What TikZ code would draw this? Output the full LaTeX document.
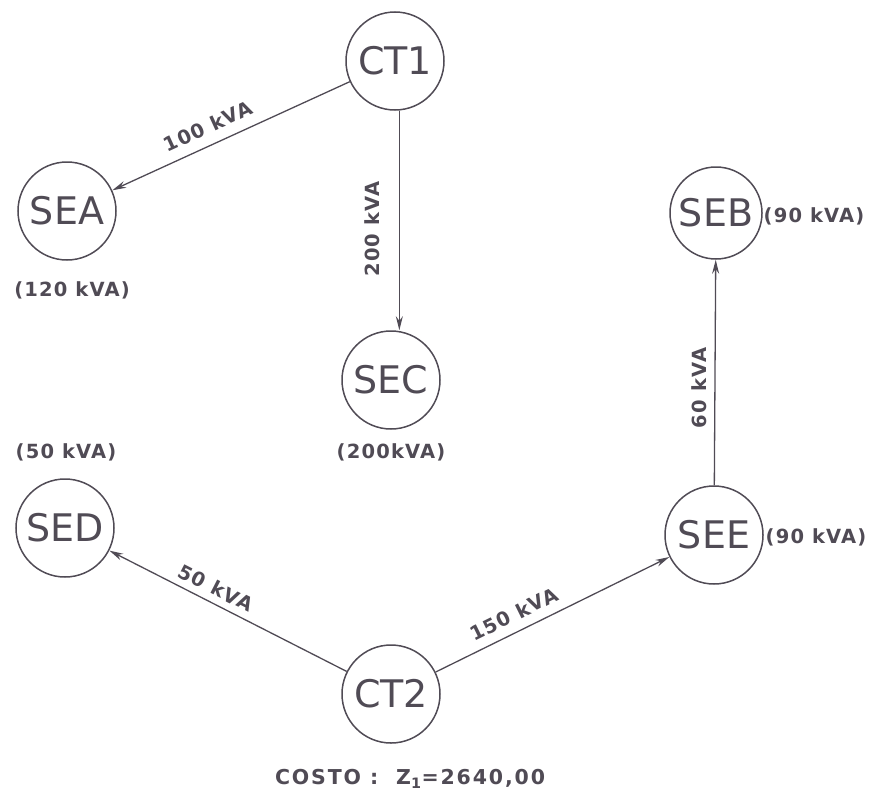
\documentclass[tikz,border=0pt]{standalone}
\usepackage{fontspec}
\setmainfont{DejaVu Sans}
\usetikzlibrary{arrows.meta}
\definecolor{ink}{RGB}{80,75,85}
\begin{document}
\begin{tikzpicture}[x=1pt,y=-1pt,
  station/.style={circle,draw=ink,line width=1.5pt,minimum size=98pt,inner sep=0pt,text=ink,font=\fontsize{38}{38}\selectfont},
  lbl/.style={text=ink,inner sep=1pt,font=\fontsize{19.5}{19.5}\selectfont\bfseries\addfontfeatures{LetterSpace=6}},
  flow/.style={draw=ink,line width=1.3pt,-{Stealth[length=14pt,width=7pt]}}]
\useasboundingbox (0,0) rectangle (882,803);
\node[station] (CT1) at (395,61) {CT1};
\node[station] (SEA) at (67,211) {SEA};
\node[station] (SEC) at (391,380) {SEC};
\node[station,minimum size=92pt] (SEB) at (716,213) {SEB};
\node[station] (SED) at (65,528) {SED};
\node[station] (SEE) at (714,535) {SEE};
\node[station] (CT2) at (391,694) {CT2};
\draw[flow] (CT1) -- (SEA);
\draw[flow] (CT1.-85) -- (SEC.north -| CT1.-85);
\draw[flow] (SEE) -- (SEB);
\draw[flow] (CT2) -- (SED);
\draw[flow] (CT2) -- (SEE);
\node[lbl,rotate=24.6] (l1) at (208,126) {100 kVA};
\node[lbl,rotate=90] (l2) at (372,229) {200 kVA};
\node[lbl,rotate=90] (l3) at (699,388) {60 kVA};
\node[lbl,rotate=-27] (l4) at (216,588) {50 kVA};
\node[lbl,rotate=26.2] (l5) at (514,614) {150 kVA};
\node[lbl] (cA) at (72,290) {(120 kVA)};
\node[lbl] (cC) at (391,452) {(200kVA)};
\node[lbl] (cB) at (814,216) {(90 kVA)};
\node[lbl] (cD) at (66,452) {(50 kVA)};
\node[lbl] (cE) at (816,537) {(90 kVA)};
\node[lbl,font=\fontsize{20.5}{20.5}\selectfont\bfseries\addfontfeatures{LetterSpace=9}] (cost) at (410,779) {COSTO :\ \ Z$_{\mathbf 1}$=2640,00};
\end{tikzpicture}
\end{document}
